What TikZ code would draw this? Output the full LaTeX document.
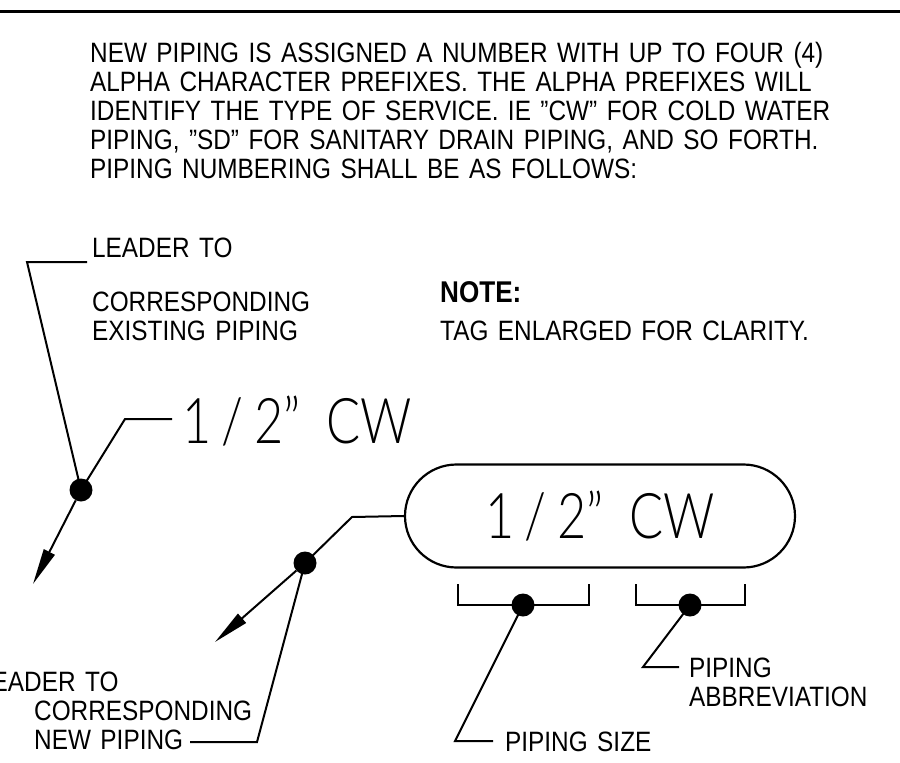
\documentclass[tikz,border=0pt]{standalone}
\usepackage{fontspec}
\setmainfont{Liberation Sans}[FakeStretch=0.87, WordSpace=1.4]
\newfontfamily\tagfont{Lato Light}[FakeStretch=0.8]
\usetikzlibrary{arrows.meta,positioning,shapes.misc}

\tikzset{
  txt/.style={inner sep=0pt, anchor=base west, font=\fontsize{28}{29}\selectfont},
  notehead/.style={txt, font=\fontsize{30}{31}\selectfont\bfseries},
  bigtag/.style={inner sep=0pt, font=\tagfont\fontsize{63}{63}\selectfont},
  leader/.style={line width=2pt},
  arrowline/.style={leader, -{Triangle[length=36pt, width=12pt]}},
  dotnode/.style={circle, fill=black, inner sep=0pt, minimum size=23pt},
  tagbox/.style={bigtag, draw, line width=2.2pt, rounded rectangle,
    minimum width=390pt, minimum height=103pt}
}
\newcommand{\tagtext}{1\,/\,2”\hspace{26pt}CW}

\begin{document}
\begin{tikzpicture}[x=1pt, y=-1pt]
  \useasboundingbox (0,0) rectangle (900,763);

  % top rule
  \draw[line width=3pt] (0,11) -- (900,11);

  % heading text
  \node[txt] (l1) at (90,62)  {NEW PIPING IS ASSIGNED A NUMBER WITH UP TO FOUR (4)};
  \node[txt] (l2) at (90,91)  {ALPHA CHARACTER PREFIXES. THE ALPHA PREFIXES WILL};
  \node[txt] (l3) at (90,120) {IDENTIFY THE TYPE OF SERVICE. IE ”CW” FOR COLD WATER};
  \node[txt] (l4) at (90,149) {PIPING, ”SD” FOR SANITARY DRAIN PIPING, AND SO FORTH.};
  \node[txt] (l5) at (90,178) {PIPING NUMBERING SHALL BE AS FOLLOWS:};

  % note
  \node[notehead] (note) at (440,302) {NOTE:};
  \node[txt] (clarity) at (440,340) {TAG ENLARGED FOR CLARITY.};

  % existing piping tag
  \node[txt] (exlead) at (92,257) {LEADER TO};
  \node[txt] (excorr) at (92,311) {CORRESPONDING};
  \node[txt] (exist)  at (92,340) {EXISTING PIPING};
  \node[bigtag, anchor=base west] (oldtag) at (182,443) {\tagtext};

  \coordinate (exstart) at (87,262);
  \coordinate (exknee)  at (27,262);
  \node[dotnode] (dotA) at (81,490) {};
  \coordinate (tagknee) at (125,419);
  \coordinate (tagend)  at (172,419);
  \coordinate (tipA)    at (33,584);

  \draw[leader] (exstart) -- (exknee) -- (dotA.center);
  \draw[leader] (dotA.center) -- (tagknee) -- (tagend);
  \draw[arrowline] (dotA) -- (tipA);

  % new piping tag
  \node[tagbox] (tag) at (600,516) {\tagtext};
  \node[dotnode] (dotB) at (305,563) {};
  \coordinate (boxknee) at (352,517);
  \coordinate (tipB)    at (215,642);
  \coordinate (newknee) at (257,742);
  \coordinate (newend)  at (190,742);

  \draw[leader] (dotB.center) -- (boxknee) -- (tag.west);
  \draw[arrowline] (dotB) -- (tipB);
  \draw[leader] (dotB.center) -- (newknee) -- (newend);

  \node[txt] (newlead) at (-22,691) {LEADER TO};
  \node[txt] (newcorr) at (34,720) {CORRESPONDING};
  \node[txt] (newpipe) at (34,749) {NEW PIPING};

  % brackets under the tag
  \draw[leader] (458,584) -- (458,605) -- (589,605) -- (589,584);
  \draw[leader] (636,584) -- (636,605) -- (745,605) -- (745,584);
  \node[dotnode] (dotSize) at (523,605) {};
  \node[dotnode] (dotAbbr) at (690,605) {};

  \coordinate (sizeknee) at (455,741);
  \coordinate (sizeend)  at (493,741);
  \coordinate (abbrknee) at (643,667);
  \coordinate (abbrend)  at (679,667);

  \draw[leader] (dotSize.center) -- (sizeknee) -- (sizeend);
  \draw[leader] (dotAbbr.center) -- (abbrknee) -- (abbrend);

  \node[txt] (sizetxt) at (505,751) {PIPING SIZE};
  \node[txt] (abbrtxt) at (689,677) {PIPING};
  \node[txt] (abbrtx2) at (689,706) {ABBREVIATION};
\end{tikzpicture}
\end{document}
